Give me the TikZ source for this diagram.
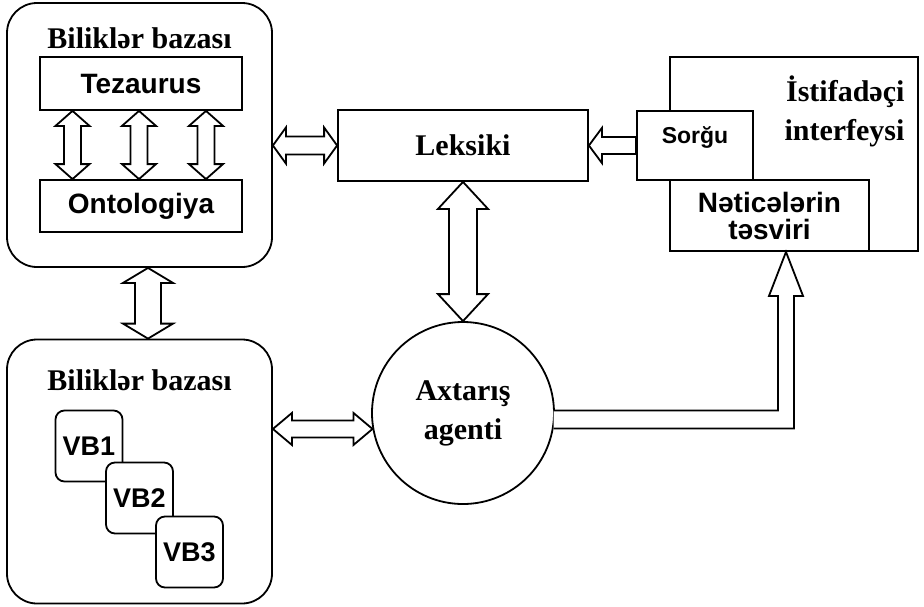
\documentclass[tikz,border=0pt]{standalone}
\usepackage{fontspec}
\setmainfont{Liberation Serif}
\setsansfont{Liberation Sans}
\usetikzlibrary{positioning,calc}

% block arrows: top/bottom (or left/right) point, head half width, shaft half width, head length
\newcommand\vdbl[5]{%
  \draw[blockarrow] let \p1=#1, \p2=#2 in
    (\x1,\y1) -- (\x1+#3pt,\y1-#5pt) -- (\x1+#4pt,\y1-#5pt) -- (\x1+#4pt,\y2+#5pt)
    -- (\x1+#3pt,\y2+#5pt) -- (\x1,\y2) -- (\x1-#3pt,\y2+#5pt) -- (\x1-#4pt,\y2+#5pt)
    -- (\x1-#4pt,\y1-#5pt) -- (\x1-#3pt,\y1-#5pt) -- cycle;}
\newcommand\hdbl[5]{%
  \draw[blockarrow] let \p1=#1, \p2=#2 in
    (\x1,\y1) -- (\x1+#5pt,\y1+#3pt) -- (\x1+#5pt,\y1+#4pt) -- (\x2-#5pt,\y1+#4pt)
    -- (\x2-#5pt,\y1+#3pt) -- (\x2,\y1) -- (\x2-#5pt,\y1-#3pt) -- (\x2-#5pt,\y1-#4pt)
    -- (\x1+#5pt,\y1-#4pt) -- (\x1+#5pt,\y1-#3pt) -- cycle;}

\begin{document}
\begin{tikzpicture}[x=1pt, y=-1pt,
    box/.style={draw, line width=1.8pt, fill=white, inner sep=0pt},
    rbox/.style={box, rounded corners=30pt, minimum width=265pt, minimum height=264pt},
    vbbox/.style={box, rounded corners=9pt, minimum width=67pt, minimum height=71pt,
      font=\sffamily\bfseries\fontsize{27}{27}\selectfont},
    serif/.style={font=\bfseries\fontsize{30}{39}\selectfont, align=center},
    sans/.style={font=\sffamily\bfseries\fontsize{28}{27}\selectfont, align=center},
    blockarrow/.style={draw, line width=1.8pt, fill=white, line join=miter}]

\useasboundingbox (0,0) rectangle (924,606);

% upper knowledge base
\node[rbox] (kb1) at (139.5,135) {};
\node[serif] (kb1title) at (139.5,38) {Biliklər bazası};
\node[box, sans, minimum width=202pt, minimum height=53pt] (tez) at (141,83.5) {Tezaurus};
\node[box, sans, minimum width=202pt, minimum height=52pt] (ont) at (141,206) {Ontologiya};

% lower knowledge base
\node[rbox] (kb2) at (139.5,471.5) {};
\node[serif] (kb2title) at (139.5,380) {Biliklər bazası};
\node[vbbox] (vb1) at (89,446) {VB1};
\node[vbbox] (vb2) at (139.5,498) {VB2};
\node[vbbox] (vb3) at (189.5,552) {VB3};

% lexicon and agent
\node[box, serif, minimum width=250pt, minimum height=71pt] (lex) at (463,145.5) {Leksiki};
\node[box, serif, circle, minimum size=182pt] (agent) at (463,413) {Axtarış\\agenti};

% user interface
\node[box, minimum width=248pt, minimum height=194pt] (ui) at (794,154) {};
\node[serif, align=right, anchor=north east] (uititle) at (908,72) {İstifadəçi\\interfeysi};
\node[box, minimum width=116pt, minimum height=69pt] (sorgu) at (695,145.5) {};
\node[sans, font=\sffamily\bfseries\fontsize{23}{23}\selectfont] (sorgutext) at (695,137) {Sorğu};
\node[box, sans, minimum width=199pt, minimum height=71pt] (net) at (769.5,215.5) {Nəticələrin\\təsviri};

% arrows
\foreach \dx in {-68.5,-2,65}
  \vdbl{($(tez.south)+(\dx,0)$)}{($(ont.north)+(\dx,0)$)}{17}{8.5}{15};
\vdbl{($(kb1.south)+(8.5,0)$)}{($(kb2.north)+(8.5,0)$)}{25}{13}{15};
\hdbl{(kb1.east |- lex.west)}{(lex.west)}{18}{9}{13};
\vdbl{(lex.south)}{(agent.north)}{25}{14}{27};
\hdbl{(kb2.east |- agent.190)}{(agent.190)}{16}{8.5}{19};
\draw[blockarrow] let \p1=(lex.east), \p2=(sorgu.west) in
  (\x1,\y1) -- (\x1+13pt,\y1+17.5pt) -- (\x1+13pt,\y1+8.5pt) -- (\x2,\y1+8.5pt)
  -- (\x2,\y1-8.5pt) -- (\x1+13pt,\y1-8.5pt) -- (\x1+13pt,\y1-17.5pt) -- cycle;
\draw[blockarrow] let \p1=(agent.356), \p2=($(net.south)+(16.5,0)$) in
  (\x1-1pt,\y1+9pt) -- (\x2-8pt,\y1+9pt) -- (\x2-8pt,\y2-44pt) -- (\x2-17pt,\y2-44pt)
  -- (\x2,\y2) -- (\x2+17pt,\y2-44pt) -- (\x2+8pt,\y2-44pt) -- (\x2+8pt,\y1-9pt) -- (\x1-1pt,\y1-9pt);
\end{tikzpicture}
\end{document}
